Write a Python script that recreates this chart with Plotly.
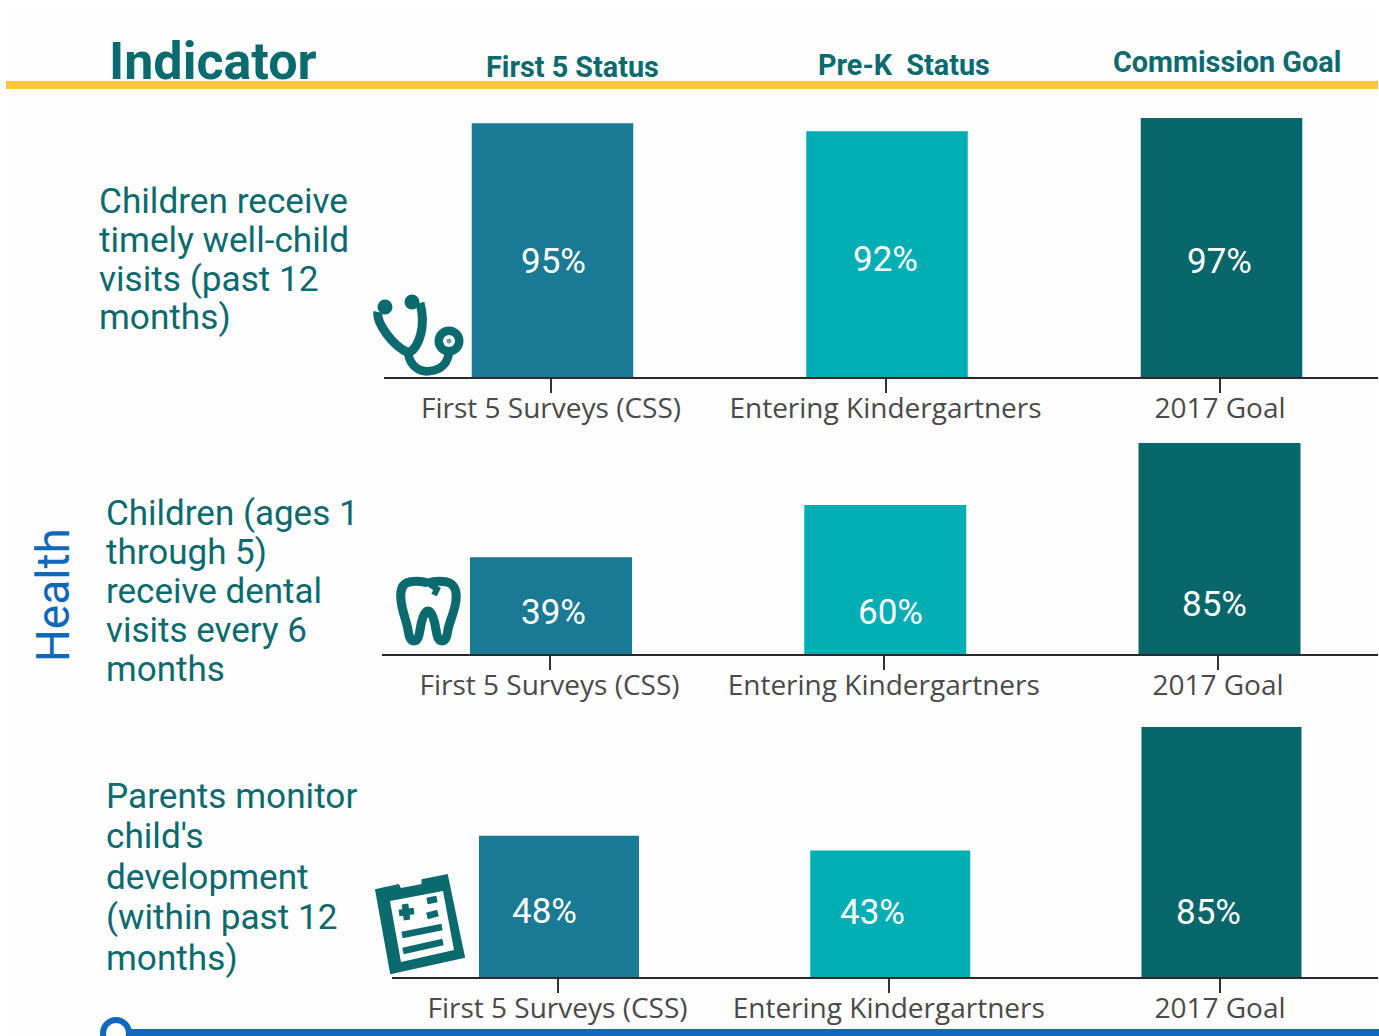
import re
import plotly.graph_objects as go

W, H = 1379, 1036

# ---- data ----
sources = ["First 5 Surveys (CSS)", "Entering Kindergartners", "2017 Goal"]
well_child = [95, 92, 97]
dental = [39, 60, 85]
development = [48, 43, 85]
well_child_lines = ["Children receive", "timely well-child", "visits (past 12", "months)"]
dental_lines = ["Children (ages 1", "through 5)", "receive dental", "visits every 6", "months"]
development_lines = ["Parents monitor", "child's", "development", "(within past 12", "months)"]
headers = ["First 5 Status", "Pre-K\u00a0 Status", "Commission Goal"]
bar_colors = ["#1A7A96", "#00AEB3", "#06666A"]

TEAL = "#0B6A6E"
BLUE = "#1168BA"
GOLD = "#FFC440"
LABEL = "Roboto"


def px(x):
    return x / W


def py(y):
    return 1 - y / H


def P(path):
    """Convert an SVG path in page pixels to paper coordinates."""
    def conv(m):
        return f"{px(float(m.group(1))):.5f},{py(float(m.group(2))):.5f}"
    return re.sub(r"(-?[\d.]+)[ ,](-?[\d.]+)", conv, path)


panels = [
    dict(vals=well_child, top=118, base=377, left=384, t0=551, dt=334.5, off=1.5, bw=161.5,
         lab_x=[553, 885, 1219], lab_y=[261, 259, 261]),
    dict(vals=dental, top=443, base=654, left=382, t0=549.5, dt=334.25, off=1.5, bw=162,
         lab_x=[553, 890, 1214], lab_y=[612, 612, 604]),
    dict(vals=development, top=727, base=977, left=392, t0=557.5, dt=331.25, off=1.5, bw=160,
         lab_x=[544, 872, 1208], lab_y=[911, 912, 912]),
]

fig = go.Figure()
annos = []
shapes = []
layout_axes = {}

for i, p in enumerate(panels, start=1):
    sfx = "" if i == 1 else str(i)
    wid = p["bw"] / p["dt"]
    fig.add_trace(go.Bar(
        x=sources, y=p["vals"], xaxis=f"x{sfx}", yaxis=f"y{sfx}",
        marker=dict(color=bar_colors, line_width=0),
        width=wid, offset=-wid / 2 + p["off"] / p["dt"],
        hoverinfo="skip", showlegend=False,
    ))
    layout_axes[f"xaxis{sfx}"] = dict(
        domain=[px(p["left"]), px(1378)],
        range=[(p["left"] - p["t0"]) / p["dt"], (1378 - p["t0"]) / p["dt"]],
        type="category", anchor=f"y{sfx}", showgrid=False, zeroline=False,
        showline=True, linecolor="#2A2A2A", linewidth=2,
        ticks="outside", ticklen=14, tickwidth=1.5, tickcolor="#333333",
        tickfont=dict(family="Open Sans", size=28, color="#4A4A4A"),
        ticklabelstandoff=-9,
        tickangle=0,
    )
    layout_axes[f"yaxis{sfx}"] = dict(
        domain=[py(p["base"]), py(p["top"])],
        range=[0, max(p["vals"])], anchor=f"x{sfx}", visible=False,
    )
    for v, lx, ly in zip(p["vals"], p["lab_x"], p["lab_y"]):
        annos.append(dict(
            x=px(lx), y=py(ly), xref="paper", yref="paper", text=f"{v}%",
            showarrow=False, xanchor="center", yanchor="middle",
            font=dict(family=LABEL, size=35, color="#FFFFFF"),
        ))


def text(x, y, s, size, color=TEAL, anchor="left", family=LABEL, angle=0):
    annos.append(dict(
        x=px(x), y=py(y), xref="paper", yref="paper", text=s, showarrow=False,
        xanchor=anchor, yanchor="middle", textangle=angle,
        font=dict(family=family, size=size, color=color),
    ))


# row captions
for s, y in zip(well_child_lines, [201, 240, 279, 317]):
    text(97, y, s, 35.2)
for s, y in zip(dental_lines, [513, 552, 591, 630, 669]):
    text(104, y, s, 35)
for s, y in zip(development_lines, [796, 836, 877, 917, 958]):
    text(104, y, s, 35.2)

# headers
text(107, 61, "<b>Indicator</b>", 52)
for s, x, y in zip(headers, [572.5, 904, 1227], [67, 65, 62]):
    text(x, y, f"<b>{s}</b>", 28.8, anchor="center")
text(53, 595, "Health", 46, color=BLUE, anchor="center", angle=-90)

# page backdrop, rule and foot line
shapes.append(dict(type="rect", xref="paper", yref="paper", x0=px(6), x1=px(1378),
                   y0=0, y1=py(8), fillcolor="#FDFDFD", line_width=0, layer="below"))
shapes.append(dict(type="rect", xref="paper", yref="paper", x0=px(6), x1=px(1378),
                   y0=py(89), y1=py(81), fillcolor=GOLD, line_width=0))
shapes.append(dict(type="rect", xref="paper", yref="paper", x0=px(125), x1=px(1379),
                   y0=0, y1=py(1029), fillcolor=BLUE, line_width=0))
shapes.append(dict(type="circle", xref="paper", yref="paper", x0=px(103), x1=px(129),
                   y0=py(1046), y1=py(1020), fillcolor="#FDFDFD",
                   line=dict(color=BLUE, width=6)))


def stroke(path, width=6):
    shapes.append(dict(type="path", xref="paper", yref="paper", path=P(path),
                       line=dict(color=TEAL, width=width)))


def fill(path, color=TEAL, lw=0):
    shapes.append(dict(type="path", xref="paper", yref="paper", path=P(path),
                       fillcolor=color, line=dict(color=color, width=lw)))


def disc(cx, cy, r, color=TEAL):
    shapes.append(dict(type="circle", xref="paper", yref="paper",
                       x0=px(cx - r), x1=px(cx + r), y0=py(cy + r), y1=py(cy - r),
                       fillcolor=color, line_width=0))


# stethoscope
stroke("M 378,312 C 376,322 392,346 409,353 C 420,346 426,325 420,303", 9)
stroke("M 408,353 C 410,366 420,373 430,371 C 442,370 448,362 449,352", 8.5)
disc(385, 307, 7.5)
disc(412, 302, 7.5)
disc(449, 341, 14.5)
disc(449, 341, 6, "#FFFFFF")
disc(449, 341, 2.5, "#6E9EA2")

# tooth
stroke("M 428,583 C 422,581 414,581 409,582 C 401,584 400,592 401,600 "
       "C 402,612 407,622 408,630 C 409,636 410,641 414,641 C 418,641 419,636 420,630 "
       "C 421,622 424,611 428,611 C 432,611 435,622 436,630 C 437,636 438,641 442,641 "
       "C 446,641 447,636 448,630 C 449,622 455,612 456,600 C 457,592 455,584 447,582 "
       "C 441,581 434,581 428,583", 9)
stroke("M 428,583 L 437,589 L 434,595", 6)

# clipboard
fill("M 379,892 L 397,888 L 399,892 L 425,887 L 425,882 L 445,878 L 461,955 "
     "L 393,970 Z", TEAL, 7)
fill("M 390,901 L 443,891 L 454,950 L 401,962 Z", "#FFFFFF")
for seg, w in [("M 399,913 L 414,911", 6.5), ("M 405,904 L 407,920", 6.5),
               ("M 427,901 L 437,899", 6.5), ("M 427,916 L 438,913", 6.5),
               ("M 402,935 L 442,927", 6.5), ("M 403,951 L 443,942", 6.5)]:
    stroke(seg, w)

fig.update_layout(
    width=W, height=H, margin=dict(l=0, r=0, t=0, b=0, pad=0),
    paper_bgcolor="#FFFFFF", plot_bgcolor="rgba(0,0,0,0)",
    showlegend=False, annotations=annos, shapes=shapes, **layout_axes,
)
fig.write_html("out.html", post_script="document.body.style.margin='0';",
               config={"displayModeBar": False})
